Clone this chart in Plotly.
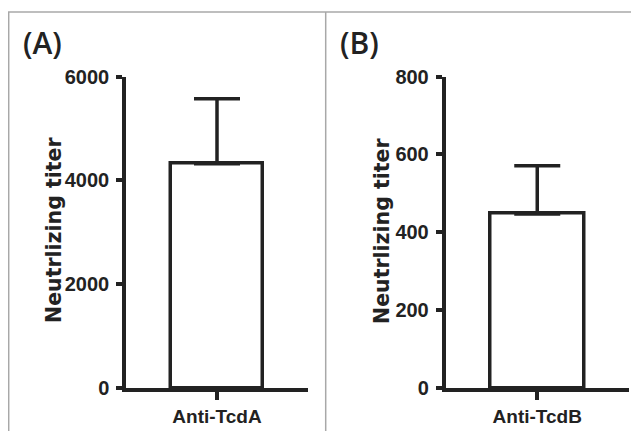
import plotly.graph_objects as go

# Data
panel_labels = ["(A)", "(B)"]
categories_a = ["Anti-TcdA"]
categories_b = ["Anti-TcdB"]
values_a = [4320]
errors_a = [1250]
values_b = [447]
errors_b = [124]
ticks_a = [0, 2000, 4000, 6000]
ticks_b = [0, 200, 400, 600, 800]
y_title = "Neutrlizing titer"

W, H = 639, 431
OFF = 8  # page body margin compensation

def px(x):
    return (x - OFF) / W

def py(y):
    return 1 - (y - OFF) / H

fig = go.Figure()
line_col = "#222222"
LW = 3.5

def add_bar(cats, vals, errs, xa, ya):
    fig.add_trace(go.Bar(
        x=cats, y=vals, width=0.51,
        marker=dict(color="white", line=dict(color=line_col, width=LW)),
        error_y=dict(type="data", symmetric=False, array=errs, arrayminus=[0]*len(errs),
                     color=line_col, thickness=LW, width=23),
        xaxis=xa, yaxis=ya, showlegend=False,
    ))

add_bar(categories_a, values_a, errors_a, "x", "y")
add_bar(categories_b, values_b, errors_b, "x2", "y2")

ydom = [py(388), py(76.5)]
tickfont = dict(family="Liberation Sans, Arial", size=20, color="#222222", weight="bold")
common_x = dict(type="category", range=[-0.5, 0.5], showline=True, linecolor=line_col, linewidth=LW,
                ticks="outside", ticklen=8, tickwidth=LW, tickcolor=line_col,
                tickfont=dict(family="Liberation Sans, Arial", size=19, color="#222222", weight="bold"),
                showgrid=False, zeroline=False, automargin=False)
common_y = dict(showline=True, linecolor=line_col, linewidth=LW, ticks="outside", ticklen=6,
                tickwidth=LW, tickcolor=line_col, tickfont=tickfont, showgrid=False,
                zeroline=False, ticklabelstandoff=3, automargin=False)

fig.update_layout(
    width=W, height=H, margin=dict(l=0, r=0, t=0, b=0, autoexpand=False),
    paper_bgcolor="white", plot_bgcolor="rgba(0,0,0,0)",
    bargap=0,
    xaxis=dict(domain=[px(126), px(308)], anchor="y", **common_x),
    yaxis=dict(domain=ydom, anchor="x", range=[0, 6000], tickvals=ticks_a,
               ticktext=[str(t) for t in ticks_a], **common_y),
    xaxis2=dict(domain=[px(445.5), px(629)], anchor="y2", **common_x),
    yaxis2=dict(domain=ydom, anchor="x2", range=[0, 800], tickvals=ticks_b,
                ticktext=[str(t) for t in ticks_b], **common_y),
)

# frame lines
border = dict(color="#a8a8a8", width=1.5)
fig.add_shape(type="line", xref="paper", yref="paper", x0=px(8), x1=1, y0=py(12), y1=py(12), line=border)
fig.add_shape(type="line", xref="paper", yref="paper", x0=px(8.7), x1=px(8.7), y0=0, y1=py(12), line=border)
fig.add_shape(type="line", xref="paper", yref="paper", x0=px(325.7), x1=px(325.7), y0=0, y1=py(12), line=border)

# panel labels
for lab, cx, cy in [(panel_labels[0], 42.8, 42), (panel_labels[1], 359, 43)]:
    fig.add_annotation(text=lab, x=px(cx), y=py(cy), xref="paper", yref="paper",
                       showarrow=False, xanchor="center", yanchor="middle",
                       font=dict(family="Open Sans", size=30, color="#222222", weight=600))

# y titles
for cx, cy in [(53.5, 229.5), (381.5, 230.5)]:
    fig.add_annotation(text=y_title, x=px(cx), y=py(cy), xref="paper", yref="paper",
                       showarrow=False, textangle=-90, xanchor="center", yanchor="middle",
                       font=dict(family="DejaVu Sans", size=20.5, color="#222222", weight="bold"))

fig.write_html("out.html")
